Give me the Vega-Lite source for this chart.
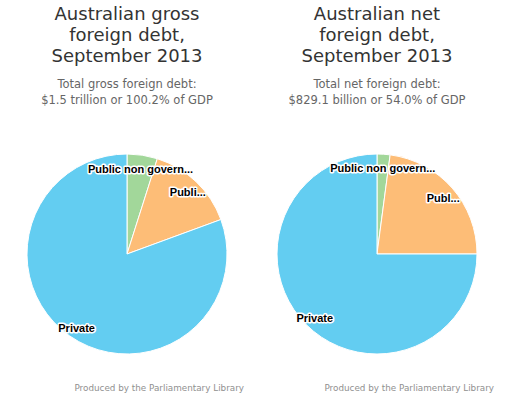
{
  "$schema": "https://vega.github.io/schema/vega-lite/v6.json",
  "background": "white",
  "padding": {"left": 25, "top": 5, "right": 5, "bottom": 5},
  "spacing": 31,
  "config": {
    "view": {"stroke": null},
    "font": "DejaVu Sans",
    "title": {
      "font": "DejaVu Sans",
      "fontSize": 18,
      "fontWeight": "normal",
      "color": "#333333",
      "lineHeight": 21,
      "subtitleFont": "DejaVu Sans",
      "subtitleFontSize": 11.5,
      "subtitleColor": "#666666",
      "subtitleLineHeight": 16,
      "subtitlePadding": 13,
      "anchor": "middle"
    }
  },
  "hconcat": [
    {
      "title": {"text": "Produced by the Parliamentary Library", "orient": "bottom", "anchor": "end", "fontSize": 8.8, "color": "#909090", "dx": 15, "offset": 28},
      "vconcat": [
        {
          "title": {
            "text": ["Australian gross", "foreign debt,", "September 2013"],
            "subtitle": ["Total gross foreign debt:", "$1.5 trillion or 100.2% of GDP"],
            "offset": 46
          },
          "width": 200,
          "height": 200,
          "data": {"values": [
            {"sector": "Public non government", "label": "Public non govern...", "share": 4.9, "ord": 1},
            {"sector": "Public general government", "label": "Publi...", "share": 14.5, "ord": 2},
            {"sector": "Private", "label": "Private", "share": 80.6, "ord": 3}
          ]},
          "encoding": {
            "theta": {"field": "share", "type": "quantitative", "stack": true},
            "order": {"field": "ord", "type": "quantitative"}
          },
          "layer": [
            {"mark": {"type": "arc", "outerRadius": 100, "stroke": "white", "strokeWidth": 1},
             "encoding": {"color": {"field": "sector", "type": "nominal", "legend": null,
               "scale": {"domain": ["Public non government", "Public general government", "Private"], "range": ["#A2D79A", "#FDBD77", "#63CDF1"]}}}},
            {"mark": {"type": "text", "radius": 88, "dy": 3, "font": "Liberation Sans", "fontWeight": "bold", "fontSize": 11, "fill": "white", "stroke": "white", "strokeWidth": 3, "strokeJoin": "round"},
             "encoding": {"text": {"field": "label", "type": "nominal"}}},
            {"mark": {"type": "text", "radius": 88, "dy": 3, "font": "Liberation Sans", "fontWeight": "bold", "fontSize": 11, "fill": "black"},
             "encoding": {"text": {"field": "label", "type": "nominal"}}}
          ]
        }
      ]
    },
    {
      "title": {"text": "Produced by the Parliamentary Library", "orient": "bottom", "anchor": "end", "fontSize": 8.8, "color": "#909090", "dx": 15, "offset": 28},
      "vconcat": [
        {
          "title": {
            "text": ["Australian net", "foreign debt,", "September 2013"],
            "subtitle": ["Total net foreign debt:", "$829.1 billion or 54.0% of GDP"],
            "offset": 46
          },
          "width": 200,
          "height": 200,
          "data": {"values": [
            {"sector": "Public non government", "label": "Public non govern...", "share": 2.1, "ord": 1},
            {"sector": "Public general government", "label": "Publ...", "share": 22.9, "ord": 2},
            {"sector": "Private", "label": "Private", "share": 75.0, "ord": 3}
          ]},
          "encoding": {
            "theta": {"field": "share", "type": "quantitative", "stack": true},
            "order": {"field": "ord", "type": "quantitative"}
          },
          "layer": [
            {"mark": {"type": "arc", "outerRadius": 100, "stroke": "white", "strokeWidth": 1},
             "encoding": {"color": {"field": "sector", "type": "nominal", "legend": null,
               "scale": {"domain": ["Public non government", "Public general government", "Private"], "range": ["#A2D79A", "#FDBD77", "#63CDF1"]}}}},
            {"mark": {"type": "text", "radius": 88, "dy": 3, "font": "Liberation Sans", "fontWeight": "bold", "fontSize": 11, "fill": "white", "stroke": "white", "strokeWidth": 3, "strokeJoin": "round"},
             "encoding": {"text": {"field": "label", "type": "nominal"}}},
            {"mark": {"type": "text", "radius": 88, "dy": 3, "font": "Liberation Sans", "fontWeight": "bold", "fontSize": 11, "fill": "black"},
             "encoding": {"text": {"field": "label", "type": "nominal"}}}
          ]
        }
      ]
    }
  ]
}
